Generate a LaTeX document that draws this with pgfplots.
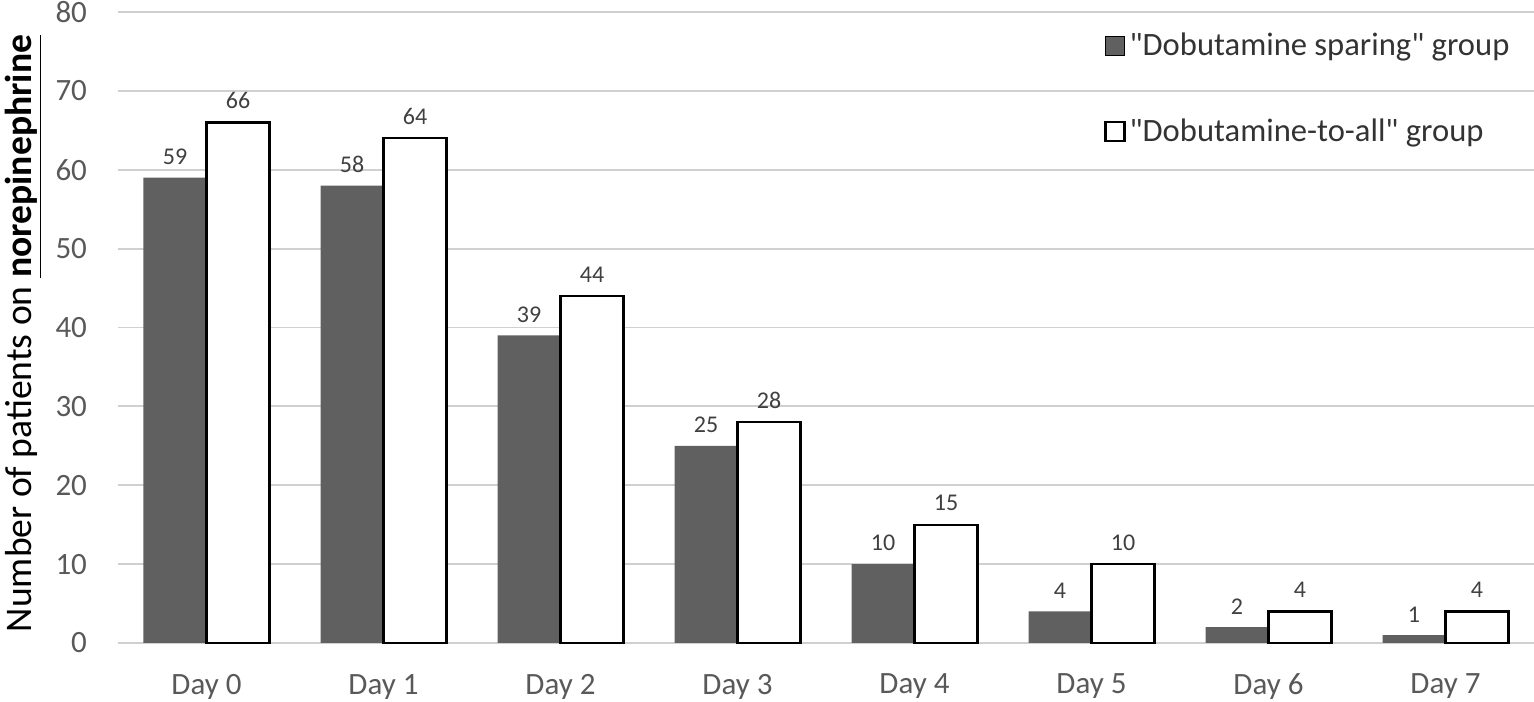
\documentclass[border=0pt]{standalone}
\usepackage{fontspec}
\setmainfont{Carlito}[Ligatures=TeXOff]
\usepackage{pgfplots}
\pgfplotsset{compat=1.18}
\usetikzlibrary{calc}
\definecolor{darkbar}{HTML}{606060}
\definecolor{gridc}{HTML}{D0D0D0}
\definecolor{tickc}{HTML}{595959}
\definecolor{valc}{HTML}{404040}
\begin{document}
\begin{tikzpicture}
\begin{axis}[
  name=ax,
  scale only axis,
  width=708pt, height=315.5pt,
  ybar=0pt, bar width=31.5pt,
  xmin=-0.5, xmax=7.5,
  ymin=0, ymax=80,
  ytick={0,10,...,80},
  xtick={0,...,7},
  xticklabels={Day 0,Day 1,Day 2,Day 3,Day 4,Day 5,Day 6,Day 7},
  /pgf/number format/assume math mode=true,
  axis line style={draw=none},
  axis x line*=bottom,
  axis y line*=left,
  major tick length=0pt,
  ymajorgrids, grid style={gridc, line width=0.9pt},
  yticklabel style={font=\fontsize{15.5}{18}\selectfont, text=tickc, xshift=-12pt},
  xticklabel style={font=\fontsize{15.5}{18}\selectfont, text=tickc, yshift=-12pt},
  ylabel={Number of patients on \textbf{\underline{norepinephrine}}},
  ylabel style={font=\fontsize{18.8}{22}\selectfont, text=black},
  every axis y label/.append style={at={(ticklabel cs:0.5)}, xshift=-3pt},
  nodes near coords,
  every node near coord/.append style={font=\fontsize{12}{14}\selectfont, text=valc, yshift=3pt},
  legend style={at={(0.99,0.98)}, anchor=north east, draw=none, fill=none,
    font=\fontsize{16.3}{20}\selectfont, text=valc!80!black, row sep=26pt},
  legend cell align=left,
  legend image code/.code={\draw[#1] (0pt,-4.75pt) rectangle (9.5pt,4.75pt);},
  clip=false,
]
\draw[gridc, line width=0.9pt] (rel axis cs:0,0) -- (rel axis cs:1,0);
\addplot[fill=darkbar, draw=none] coordinates {(0,59) (1,58) (2,39) (3,25) (4,10) (5,4) (6,2) (7,1)};
\addlegendentry{"Dobutamine sparing" group}
\addplot[fill=white, draw=black, line width=1.1pt] coordinates {(0,66) (1,64) (2,44) (3,28) (4,15) (5,10) (6,4) (7,4)};
\addlegendentry{"Dobutamine-to-all" group}
\end{axis}
\pgfresetboundingbox
\useasboundingbox ($(ax.south west)+(-59pt,-29.5pt)$) rectangle ($(ax.north east)+(0pt,6pt)$);
\end{tikzpicture}
\end{document}
